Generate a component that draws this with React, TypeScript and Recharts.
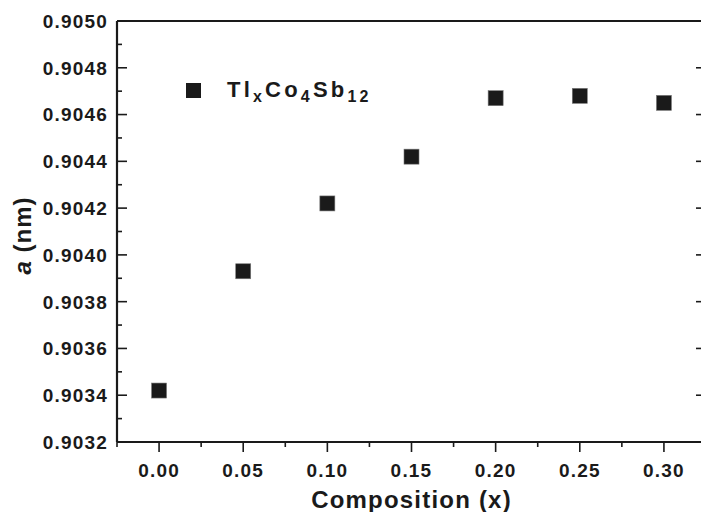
import { ScatterChart, Scatter, XAxis, YAxis, Label } from 'recharts';

const compositions = [0, 0.05, 0.1, 0.15, 0.2, 0.25, 0.3];
const latticeA = [0.90342, 0.90393, 0.90422, 0.90442, 0.90467, 0.90468, 0.90465];

const xTicks = [-0.025, 0, 0.025, 0.05, 0.075, 0.1, 0.125, 0.15, 0.175, 0.2, 0.225, 0.25, 0.275, 0.3, 0.325];
const xTickLabels = ['0.00', '0.05', '0.10', '0.15', '0.20', '0.25', '0.30'];
const yTicks = [
  0.9032, 0.9033, 0.9034, 0.9035, 0.9036, 0.9037, 0.9038, 0.9039, 0.904, 0.9041,
  0.9042, 0.9043, 0.9044, 0.9045, 0.9046, 0.9047, 0.9048, 0.9049, 0.905,
];
const yTickLabels = ['0.9032', '0.9034', '0.9036', '0.9038', '0.9040', '0.9042', '0.9044', '0.9046', '0.9048', '0.9050'];

const data = compositions.map((x, i) => ({ x, a: latticeA[i] }));

const INK = '#1a1a1a';
const FONT = '"Liberation Sans", Arial, Helvetica, sans-serif';
const MARK = 15;

const BottomTick = ({ x, y, payload }: any) => {
  const label = Number(payload.value).toFixed(2);
  const major = xTickLabels.includes(label);
  return (
    <g>
      <line x1={x} x2={x} y1={y} y2={y + (major ? 10 : 5)} stroke={INK} strokeWidth={1.6} />
      {major && (
        <text x={x} y={y + 35} textAnchor="middle" fill={INK} fontFamily={FONT} fontWeight="bold" fontSize={19} letterSpacing={1.2}>
          {label}
        </text>
      )}
    </g>
  );
};

const TopTick = ({ x, y, payload }: any) => {
  const major = xTickLabels.includes(Number(payload.value).toFixed(2));
  return <line x1={x} x2={x} y1={y} y2={y + (major ? 9 : 5)} stroke={INK} strokeWidth={1.6} />;
};

const LeftTick = ({ x, y, payload }: any) => {
  const label = Number(payload.value).toFixed(4);
  const major = yTickLabels.includes(label);
  return (
    <g>
      <line x1={x} x2={x + (major ? 10 : 5)} y1={y} y2={y} stroke={INK} strokeWidth={1.6} />
      {major && (
        <text x={x - 9} y={y} dy="0.36em" textAnchor="end" fill={INK} fontFamily={FONT} fontWeight="bold" fontSize={19} letterSpacing={1.2}>
          {label}
        </text>
      )}
    </g>
  );
};

const RightTick = ({ x, y, payload }: any) => {
  const major = yTickLabels.includes(Number(payload.value).toFixed(4));
  return <line x1={x} x2={x - (major ? 10 : 5)} y1={y} y2={y} stroke={INK} strokeWidth={1.6} />;
};

const SquareMark = ({ cx, cy }: any) => (
  <rect x={cx - MARK / 2} y={cy - MARK / 2} width={MARK} height={MARK} fill={INK} stroke="#777" strokeWidth={0.6} />
);

const XTitle = ({ viewBox }: any) => (
  <text x={viewBox.x + viewBox.width / 2} y={viewBox.y + 66} textAnchor="middle" fill={INK} fontFamily={FONT} fontWeight="bold" fontSize={24} letterSpacing={1.2}>
    Composition (x)
  </text>
);

const YTitle = ({ viewBox }: any) => {
  const cx = 31;
  const cy = viewBox.y + viewBox.height / 2 + 4;
  return (
    <text x={cx} y={cy} transform={`rotate(-90, ${cx}, ${cy})`} textAnchor="middle" fill={INK} fontFamily={FONT} fontWeight="bold" fontSize={24} letterSpacing={1}>
      <tspan fontStyle="italic">a</tspan> (nm)
    </text>
  );
};

const axisLine = { stroke: INK, strokeWidth: 2.2 };

export default function App() {
  return (
    <div style={{ position: 'absolute', left: 0, top: 0, width: 701, height: 512, background: '#fff' }}>
      <ScatterChart width={701} height={512} margin={{ top: 20, right: -6, bottom: 69, left: 0 }}>
        <XAxis
          type="number"
          dataKey="x"
          domain={[-0.025, 0.325]}
          ticks={xTicks}
          interval={0}
          height={1}
          stroke={INK}
          tickSize={0}
          tickMargin={0}
          tickLine={false}
          tick={BottomTick}
          axisLine={axisLine}
          allowDataOverflow
        >
          <Label content={XTitle} />
        </XAxis>
        <XAxis
          xAxisId="top"
          orientation="top"
          type="number"
          domain={[-0.025, 0.325]}
          ticks={xTicks}
          interval={0}
          height={1}
          stroke={INK}
          tickSize={0}
          tickMargin={0}
          tickLine={false}
          tick={TopTick}
          axisLine={axisLine}
          allowDataOverflow
        />
        <YAxis
          type="number"
          dataKey="a"
          domain={[0.9032, 0.905]}
          ticks={yTicks}
          interval={0}
          width={117}
          stroke={INK}
          tickSize={0}
          tickMargin={0}
          tickLine={false}
          tick={LeftTick}
          axisLine={axisLine}
          allowDataOverflow
        >
          <Label content={YTitle} />
        </YAxis>
        <YAxis
          yAxisId="right"
          orientation="right"
          type="number"
          domain={[0.9032, 0.905]}
          ticks={yTicks}
          interval={0}
          width={1}
          stroke={INK}
          tickSize={0}
          tickMargin={0}
          tickLine={false}
          tick={RightTick}
          axisLine={axisLine}
          allowDataOverflow
        />
        <Scatter data={data} fill={INK} shape={SquareMark} isAnimationActive={false} />
      </ScatterChart>
      <svg width={701} height={512} style={{ position: 'absolute', left: 0, top: 0, pointerEvents: 'none' }}>
        <rect x={186} y={83} width={MARK} height={MARK} fill={INK} />
        <text x={227} y={97} fill={INK} fontFamily={FONT} fontWeight="bold" fontSize={22} letterSpacing={3.2}>
          Tl<tspan dy={5} fontSize={16}>x</tspan>
          <tspan dy={-5}>Co</tspan>
          <tspan dy={5} fontSize={16}>4</tspan>
          <tspan dy={-5}>Sb</tspan>
          <tspan dy={5} fontSize={16}>12</tspan>
        </text>
      </svg>
    </div>
  );
}
